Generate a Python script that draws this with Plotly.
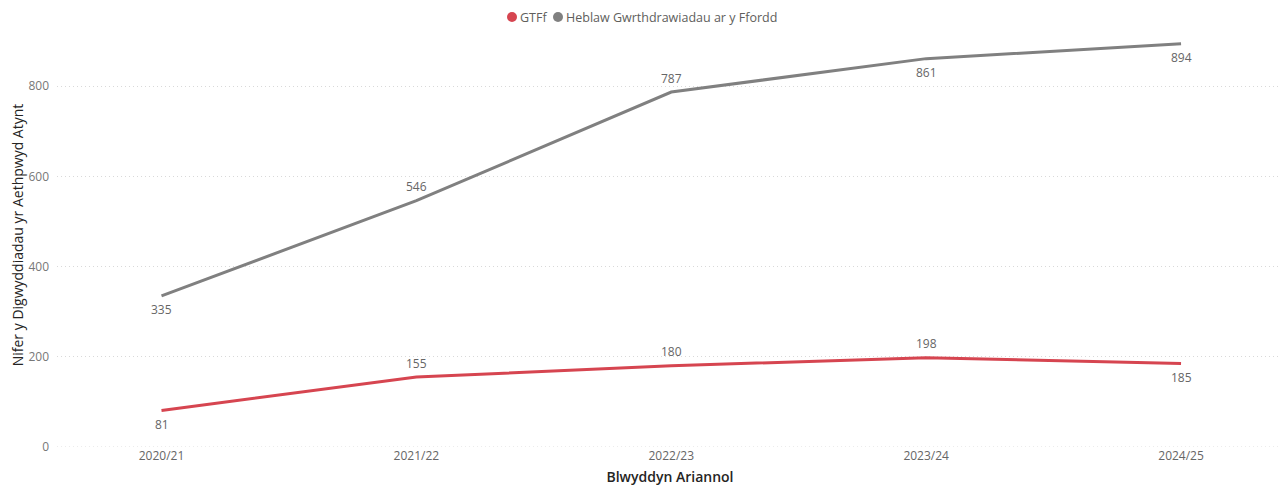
import plotly.graph_objects as go

years = ["2020/21", "2021/22", "2022/23", "2023/24", "2024/25"]
gtff = [81, 155, 180, 198, 185]
heblaw = [335, 546, 787, 861, 894]
gtff_side = [-1, 1, 1, 1, -1]     # +1 label above, -1 label below
heblaw_side = [-1, 1, 1, -1, -1]
series_names = ["GTFf", "Heblaw Gwrthdrawiadau ar y Ffordd"]

RED = "#D64550"
GREY = "#808080"
font_fam = "Open Sans, Noto Sans, DejaVu Sans, sans-serif"

L, R, T, B = 49, 13, 15, 49
W, H = 1288, 488
PW = W - L - R

fig = go.Figure()
fig.add_trace(go.Scatter(x=years, y=gtff, mode="lines", name=series_names[0],
                         line=dict(color=RED, width=3), showlegend=False))
fig.add_trace(go.Scatter(x=years, y=heblaw, mode="lines", name=series_names[1],
                         line=dict(color=GREY, width=3), showlegend=False))

for xs, ys, sides in [(years, gtff, gtff_side), (years, heblaw, heblaw_side)]:
    for xv, yv, s in zip(xs, ys, sides):
        fig.add_annotation(x=xv, y=yv, xref="x", yref="y", text=str(yv), showarrow=False,
                           yshift=14 * s, font=dict(size=12, color="#666666", family=font_fam))

# manual legend: circle markers + text
def px2fx(p):
    return (p - L) / PW

leg_y_shift = 6
for name, col, cx, tx in [(series_names[0], RED, 504, 510), (series_names[1], GREY, 550, 556)]:
    fig.add_shape(type="circle", xref="paper", yref="paper", xsizemode="pixel", ysizemode="pixel",
                  xanchor=px2fx(cx), yanchor=1.0, x0=-5, x1=5, y0=leg_y_shift - 5, y1=leg_y_shift + 5,
                  fillcolor=col, line=dict(width=0))
    fig.add_annotation(xref="paper", yref="paper", x=px2fx(tx), y=1.0, yshift=leg_y_shift,
                       xanchor="left", yanchor="middle", showarrow=False, text=name,
                       font=dict(size=12.5, color="#605E5C", family=font_fam))

fig.update_layout(
    width=W, height=H,
    margin=dict(l=L, r=R, t=T, b=B),
    paper_bgcolor="white", plot_bgcolor="white",
    font=dict(family=font_fam, color="#666666", size=12),
    showlegend=False,
    xaxis=dict(type="category", range=[-0.41, 4.40], showgrid=False, zeroline=False,
               showline=False, ticks="", tickfont=dict(size=12, color="#666666"), automargin=False,
               title=dict(text="Blwyddyn Ariannol", standoff=9,
                          font=dict(size=14, color="#252423", family=font_fam, weight=600))),
    yaxis=dict(range=[0, 940], tickvals=[0, 200, 400, 600, 800], showgrid=True,
               gridcolor="#D9D9D9", griddash="1px,3px", gridwidth=1, zeroline=False, showline=False,
               ticks="", tickfont=dict(size=12, color="#777777"), ticklabelstandoff=7, automargin=False,
               title=dict(text="Nifer y Digwyddiadau yr Aethpwyd Atynt", standoff=10,
                          font=dict(size=14, color="#252423", family=font_fam))),
)
fig.add_shape(type="line", xref="paper", yref="y", x0=0, x1=1, y0=0, y1=0,
              line=dict(color="#D9D9D9", width=1, dash="1px,3px"), layer="below")

fig.write_html("out.html")
